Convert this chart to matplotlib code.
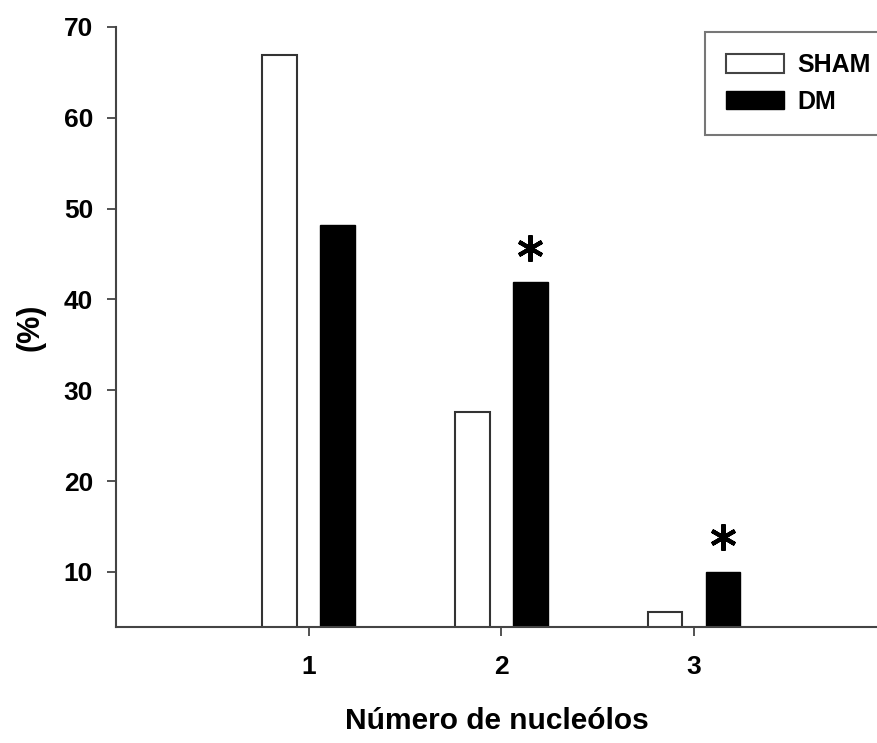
import numpy as np
import matplotlib.pyplot as plt
from matplotlib.patches import Patch

plt.rcParams['font.family'] = ['Liberation Sans', 'DejaVu Sans']
plt.rcParams['font.weight'] = 'bold'

# values
categories = [1, 2, 3]
sham = [66.9, 27.6, 5.6]
dm = [48.2, 41.9, 10.0]
significant = [False, True, True]   # asterisk above DM bar

x = np.array(categories, dtype=float)
w = 0.18
off = 0.15

fig = plt.figure(figsize=(8.77, 7.43), dpi=100)
ax = fig.add_axes([116 / 877, 116 / 743, 1 - 116 / 877, (627 - 27) / 743])

ax.bar(x - off, sham, w, color='white', edgecolor='#333333', linewidth=1.5, label='SHAM')
ax.bar(x + off, dm, w, color='black', edgecolor='black', linewidth=1.0, label='DM')

for xi, v, s in zip(x + off, dm, significant):
    if s:
        ax.plot(xi, v + 3.8, marker=(6, 2, 0), markersize=19, markeredgewidth=3.0,
                color='black', clip_on=False)

ax.set_xlim(0.0, 3.95)
ax.set_ylim(3.94, 70)
ax.set_yticks([10, 20, 30, 40, 50, 60, 70])
ax.set_xticks(categories)
ax.set_xticklabels([str(c) for c in categories])

for side in ['top', 'right']:
    ax.spines[side].set_visible(False)
for side in ['left', 'bottom']:
    ax.spines[side].set_color('#444444')
    ax.spines[side].set_linewidth(1.5)

ax.tick_params(direction='out', length=6.5, width=1.3, color='#444444',
               labelsize=19, pad=10)
ax.tick_params(axis='x', pad=14)

ax.set_ylabel('(%)', fontsize=22, fontweight='bold', labelpad=13)
ax.set_xlabel('Número de nucleólos', fontsize=21.5, fontweight='bold', labelpad=20)

handles = [Patch(facecolor='white', edgecolor='#444444', linewidth=1.5, label='SHAM'),
           Patch(facecolor='black', edgecolor='black', label='DM')]
leg = fig.legend(handles=handles, loc='upper left',
                 bbox_to_anchor=(705 / 877, 1 - 32 / 743),
                 prop={'size': 18, 'weight': 'bold'}, frameon=True, fancybox=False,
                 handlelength=2.3, handleheight=0.75, handletextpad=0.55,
                 labelspacing=0.5, borderpad=0.85, borderaxespad=0)
leg.get_frame().set_edgecolor('#555555')
leg.get_frame().set_linewidth(1.5)

fig.savefig('out.png', dpi=100)
